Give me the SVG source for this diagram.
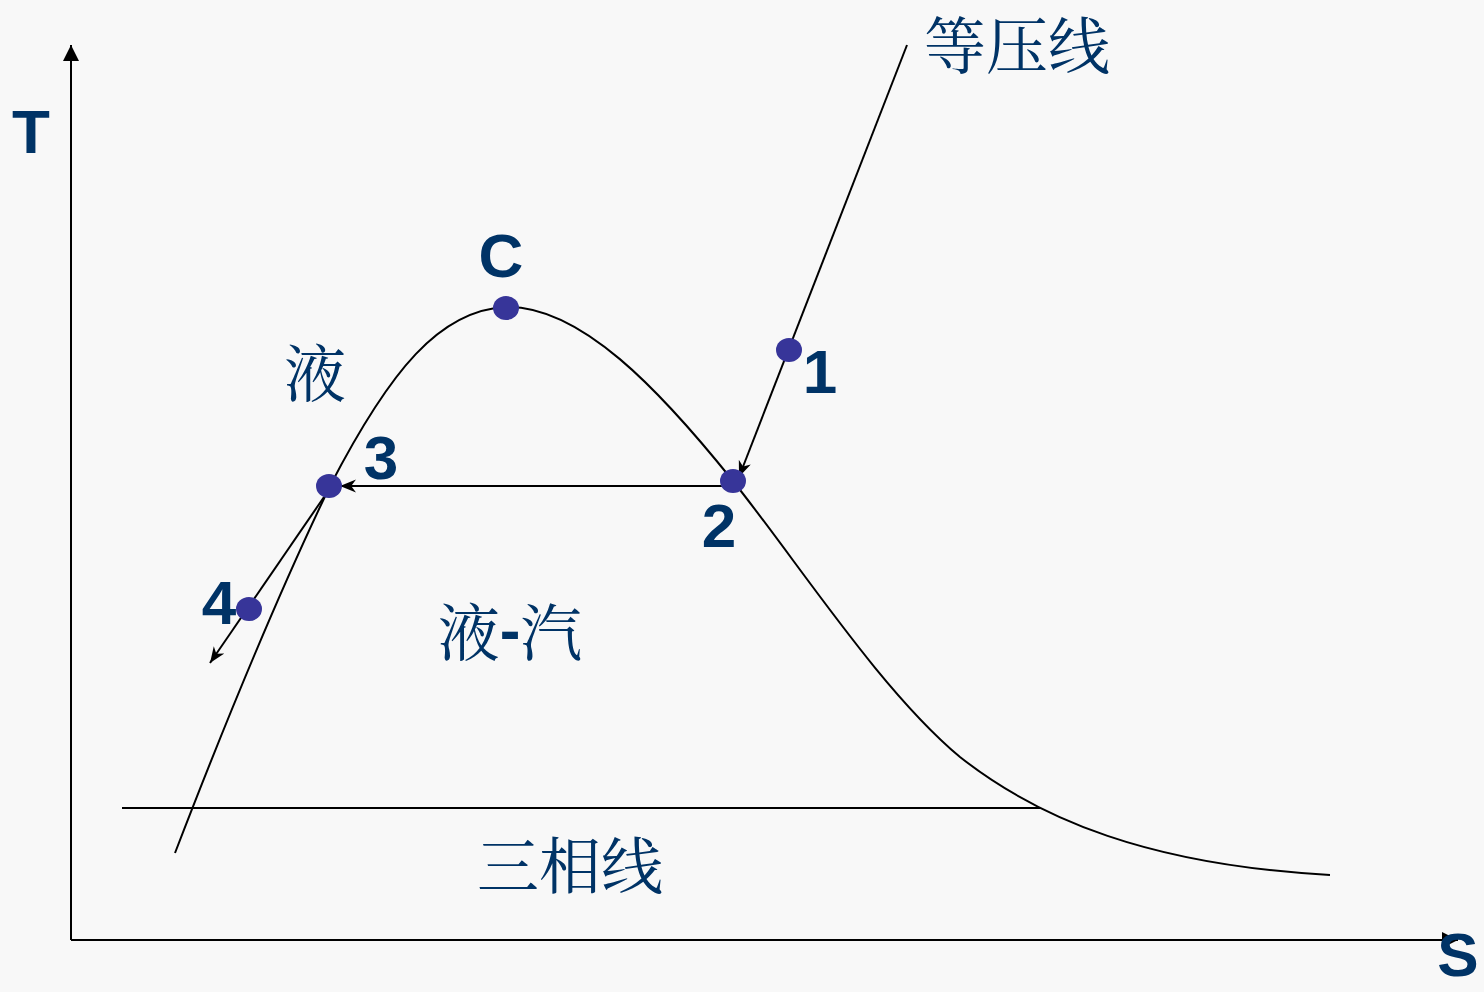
<svg xmlns="http://www.w3.org/2000/svg" width="1484" height="992" viewBox="0 0 1484 992">
<defs>
<style>
.ln{fill:none;stroke:#000;stroke-width:2}
.lbl{font-family:"Liberation Sans",Arial,sans-serif;font-weight:bold;font-size:62px;fill:#003366;text-anchor:middle}
.cn{font-family:"Noto Serif CJK SC","Noto Sans CJK SC",serif;font-size:62px;fill:#003366;text-anchor:middle;dominant-baseline:central}
.dot{fill:#373599}
</style>
<marker id="tri" viewBox="0 0 10 10" refX="10" refY="5" markerWidth="16" markerHeight="16" markerUnits="userSpaceOnUse" orient="auto">
<path d="M0,0 L10,5 L0,10 Z" fill="#000"/>
</marker>
<marker id="vee" viewBox="0 0 10 10" refX="10" refY="5" markerWidth="16" markerHeight="16" markerUnits="userSpaceOnUse" orient="auto">
<path d="M0,1 L10,5 L0,9 L3,5 Z" fill="#000"/>
</marker>
</defs>
<rect width="1484" height="992" fill="#f8f8f8"/>
<g id="axes">
<line class="ln" x1="71" y1="940" x2="71" y2="45" marker-end="url(#tri)"/>
<line class="ln" x1="71" y1="940" x2="1458" y2="940" marker-end="url(#tri)"/>
</g>
<g id="connectors">
<path id="dome" class="ln" d="M175,853 C230,710 280,590 330,486 C390,370 440,310 506,307 C580,305 660,390 733,481 C800,565 880,690 960,757 C1040,820 1150,865 1330,875"/>
<line id="triple" class="ln" x1="122" y1="808" x2="1040" y2="808"/>
<line id="isobar" class="ln" x1="907" y1="45" x2="739" y2="477" marker-end="url(#vee)"/>
<line id="e23" class="ln" x1="733" y1="486" x2="340" y2="486" marker-end="url(#vee)"/>
<line id="e34" class="ln" x1="324" y1="497" x2="210" y2="663" marker-end="url(#vee)"/>
</g>
<g id="nodeC"><ellipse class="dot" cx="506" cy="308" rx="13" ry="12"/><text class="lbl" x="501" y="277">C</text></g>
<g id="node1"><ellipse class="dot" cx="789" cy="350" rx="13" ry="12"/><text class="lbl" x="820" y="393">1</text></g>
<g id="node2"><ellipse class="dot" cx="733" cy="481" rx="13" ry="12"/><text class="lbl" x="719" y="547">2</text></g>
<g id="node3"><ellipse class="dot" cx="329" cy="486" rx="13" ry="12"/><text class="lbl" x="381" y="479">3</text></g>
<g id="node4"><ellipse class="dot" cx="249" cy="609" rx="13" ry="12"/><text class="lbl" x="219" y="624">4</text></g>
<g id="labels">
<text class="lbl" x="31" y="153">T</text>
<text class="lbl" x="1458" y="976" font-size="54">S</text>
<text class="cn" x="1017" y="42">等压线</text>
<text class="cn" x="315" y="370">液</text>
<text class="cn" x="510" y="629">液<tspan font-family="Liberation Sans,sans-serif" font-weight="bold">-</tspan>汽</text>
<text class="cn" x="570" y="862">三相线</text>
</g>
</svg>
